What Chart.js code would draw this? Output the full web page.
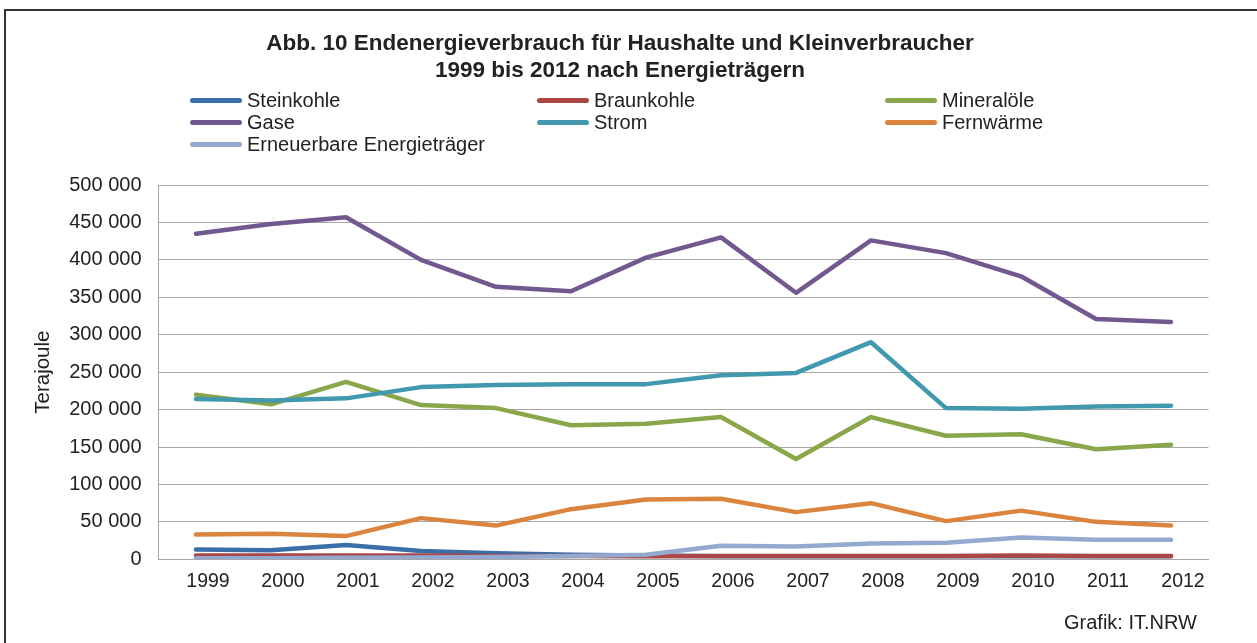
<!DOCTYPE html>
<html lang="de">
<head>
<meta charset="utf-8">
<title>Endenergieverbrauch Haushalte und Kleinverbraucher</title>
<script src="https://cdn.jsdelivr.net/npm/chart.js@4.4.1/dist/chart.umd.min.js"></script>
<style>
  html, body { margin: 0; padding: 0; background: #fff; overflow: hidden; }
  #wrap { position: relative; width: 1257px; height: 643px; font-family: "Liberation Sans", Arial, sans-serif; color: #222; }
  #rahmen { position: absolute; left: 4px; top: 9px; width: 1400px; height: 800px;
            border-left: 2.5px solid #333; border-top: 2.5px solid #333; }
  #diagramm { position: absolute; left: 0; top: 0; }
  #legende { position: absolute; left: 190px; top: 89px; display: grid;
             grid-template-columns: 347px 348px 300px; grid-auto-rows: 22px; }
  .eintrag { display: flex; align-items: center; font-size: 20px; white-space: nowrap; }
  .strich { width: 52px; height: 5px; border-radius: 3px; margin-right: 5px; flex: none; }
  #quelle { position: absolute; right: 60px; top: 611px; font-size: 20px; }
</style>
</head>
<body>
<div id="wrap">
  <div id="rahmen"></div>
  <canvas id="diagramm" width="1257" height="643"></canvas>
  <div id="legende"></div>
  <div id="quelle">Grafik: IT.NRW</div>
</div>
<script>
// Werte in Terajoule
const jahre = ['1999','2000','2001','2002','2003','2004','2005','2006','2007','2008','2009','2010','2011','2012'];

const steinkohle  = [13000, 12000, 19000, 11000, 8000, 6000, 5000, 4000, 4000, 4000, 4000, 4000, 4000, 4000];
const braunkohle  = [5000, 5000, 5000, 5000, 4500, 4500, 4000, 4500, 4500, 4500, 4500, 5000, 4500, 4500];
const mineraloele = [220000, 207000, 237000, 206000, 202000, 179000, 181000, 190000, 134000, 190000, 165000, 167000, 147000, 153000];
const gase        = [435000, 448000, 457000, 400000, 364000, 358000, 403000, 430000, 356000, 426000, 409000, 378000, 321000, 317000];
const strom       = [214000, 212000, 215000, 230000, 233000, 234000, 234000, 246000, 249000, 290000, 202000, 201000, 204000, 205000];
const fernwaerme  = [33000, 34000, 31000, 55000, 45000, 67000, 80000, 81000, 63000, 75000, 51000, 65000, 50000, 45000];
const erneuerbare = [1500, 1500, 2000, 2500, 3000, 4500, 6000, 18000, 17000, 21000, 22000, 29000, 26000, 26000];

const serien = [
    { label: 'Steinkohle', data: steinkohle, farbe: '#3a6ea8' },
    { label: 'Braunkohle', data: braunkohle, farbe: '#aa4644' },
    { label: 'Mineralöle', data: mineraloele, farbe: '#89a64a' },
    { label: 'Gase', data: gase, farbe: '#71588f' },
    { label: 'Strom', data: strom, farbe: '#4198af' },
    { label: 'Fernwärme', data: fernwaerme, farbe: '#db843d' },
    { label: 'Erneuerbare Energieträger', data: erneuerbare, farbe: '#93a9cf' }
];

const schrift = "'Liberation Sans', Arial, sans-serif";
const textFarbe = '#222';
const gitter = '#a6a6a6';

// wie in Excel: spätere Reihe liegt oben
const datasets = serien.map((s, i) => ({
    label: s.label,
    data: s.data,
    borderColor: s.farbe,
    backgroundColor: s.farbe,
    borderWidth: 4.5,
    borderCapStyle: 'round',
    borderJoinStyle: 'round',
    pointRadius: 0,
    tension: 0,
    order: serien.length - 1 - i
}));

const tausender = v => String(v).replace(/\B(?=(\d{3})+(?!\d))/g, ' ');

const chart = new Chart(document.getElementById('diagramm'), {
    type: 'line',
    data: { labels: jahre, datasets: datasets },
    options: {
        responsive: false,
        animation: false,
        layout: { padding: { left: 31.5, right: 48.5, top: 0, bottom: 43.7 } },
        plugins: {
            legend: { display: false },
            tooltip: { enabled: false },
            title: {
                display: true,
                text: ['Abb. 10 Endenergieverbrauch für Haushalte und Kleinverbraucher', '1999 bis 2012 nach Energieträgern'],
                color: textFarbe,
                font: { family: schrift, size: 22.5, weight: 'bold', lineHeight: 1.2 },
                padding: { top: 30.5, bottom: 100.5 }
            }
        },
        scales: {
            x: {
                offset: true,
                grid: { display: false, drawTicks: false },
                border: { display: true, color: gitter },
                ticks: {
                    color: textFarbe,
                    font: { family: schrift, size: 19.5 },
                    padding: 11,
                    labelOffset: 12,
                    maxRotation: 0,
                    autoSkip: false
                },
                afterFit: s => { s.height = 40; }
            },
            y: {
                min: 0,
                max: 500000,
                grid: { color: gitter, drawTicks: false },
                border: { display: true, color: gitter },
                ticks: {
                    stepSize: 50000,
                    color: textFarbe,
                    font: { family: schrift, size: 20 },
                    padding: 17,
                    callback: v => tausender(v)
                },
                title: {
                    display: true,
                    text: 'Terajoule',
                    color: textFarbe,
                    font: { family: schrift, size: 20.5 },
                    padding: { top: 0, bottom: 0 }
                },
                afterFit: s => { s.width = 127; }
            }
        }
    }
});

// Legende in drei Spalten wie im Original
const legende = document.getElementById('legende');
chart.data.datasets.forEach(ds => {
    const eintrag = document.createElement('div');
    eintrag.className = 'eintrag';
    const strich = document.createElement('span');
    strich.className = 'strich';
    strich.style.background = ds.borderColor;
    const text = document.createElement('span');
    text.textContent = ds.label;
    eintrag.appendChild(strich);
    eintrag.appendChild(text);
    legende.appendChild(eintrag);
});
</script>
</body>
</html>
